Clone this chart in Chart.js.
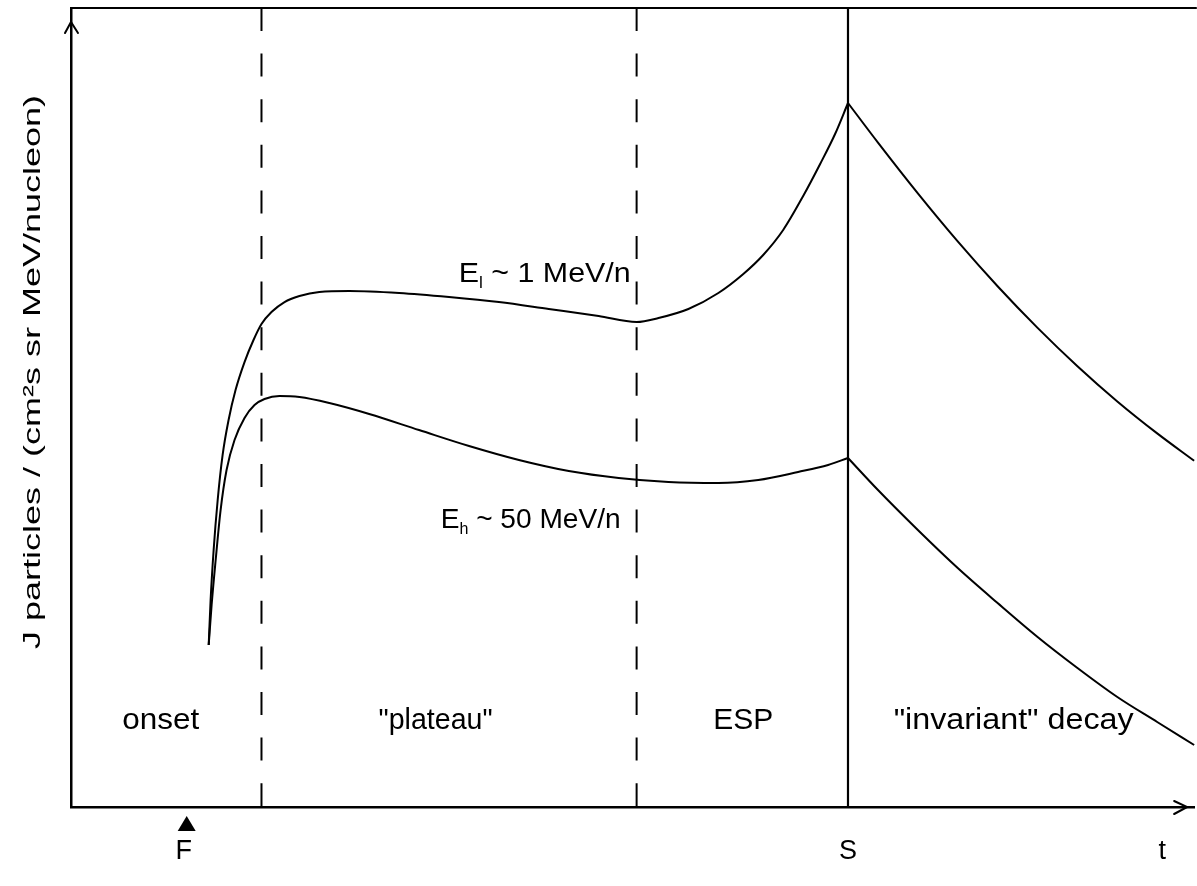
<!DOCTYPE html>
<html><head><meta charset="utf-8">
<script src="https://cdn.jsdelivr.net/npm/chart.js@4"></script>
<style>html,body{margin:0;padding:0;background:#fff;}#wrap{width:1197px;height:886px;}</style>
</head><body><div id="wrap"><canvas id="c" width="1197" height="886"></canvas></div>
<script>
// ---- data (time in arbitrary units 0..100, intensity J in arbitrary units 0..100) ----
const lowEnergyRiseT = [12.26,12.43,12.70,13.06,13.50,14.03,14.65,15.45,16.25,16.96,17.85,19.01,20.34,22.11,24.78,29.22,33.66,38.10,42.54,46.98,50.36,52.31,54.97,57.64,59.86,61.63,63.41,65.19,66.70,68.03,69.18];
const lowEnergyRiseJ = [20.28,25.91,32.17,38.42,44.06,48.44,52.19,55.69,58.45,60.45,61.95,63.20,63.95,64.46,64.58,64.33,63.83,63.20,62.33,61.45,60.70,61.20,62.33,64.33,66.71,69.09,72.22,76.47,80.48,84.23,88.11];
const lowEnergyDecayT = [69.18,71.85,75.40,78.95,82.50,86.06,89.61,93.16,96.71,100.0];
const lowEnergyDecayJ = [88.11,83.15,76.80,70.79,65.18,59.97,55.17,50.76,46.76,43.33];
const highEnergyRiseT = [12.26,12.52,12.88,13.32,13.85,14.56,15.45,16.34,17.23,18.56,20.34,23.00,26.55,30.99,35.44,39.88,44.32,48.76,53.20,57.64,61.19,64.74,67.41,69.18];
const highEnergyRiseJ = [20.28,25.28,30.91,37.17,42.18,45.93,48.69,50.31,51.06,51.44,51.31,50.56,49.19,47.18,45.18,43.43,42.05,41.18,40.68,40.55,40.93,41.93,42.80,43.68];
const highEnergyDecayT = [69.18,71.85,75.40,78.95,82.50,86.06,89.61,93.16,96.71,100.0];
const highEnergyDecayJ = [43.68,39.67,34.67,29.91,25.53,21.28,17.40,13.77,10.64,7.76];
const phaseBoundaryT = [16.96, 50.36];   // dashed boundaries
const shockT = 69.18;                     // shock passage S
const phaseLabels = ['onset', '"plateau"', 'ESP', '"invariant" decay'];
const phaseLabelT = [7.99, 32.46, 59.86, 83.93];
const phaseLabelJ = 9.76;
const phaseLabelWidth = [77, 114, 60, 240];
const axisMarkT = [10.04, 69.18, 97.16];
const axisMarkLabels = ['F', 'S', 't'];
const flareT = 10.30;
const energyLabels = [   // t = right end of the label
  {main:'E', sub:'l', rest:' ~ 1 MeV/n', t:49.83, j:65.70, width:172},
  {main:'E', sub:'h', rest:' ~ 50 MeV/n', t:48.94, j:34.92, width:180}
];
const yTitle = 'J particles / (cm\u00B2s sr MeV/nucleon)';

const zip = (ts, js) => ts.map((t, i) => ({x: t, y: js[i]}));
const FONT = '"Liberation Sans", Arial, Helvetica, sans-serif';

const curve = (label, pts) => ({label, data: pts, showLine: true, borderColor: '#000', borderWidth: 2,
  pointRadius: 0, fill: false, cubicInterpolationMode: 'monotone', clip: false});
const vline = (t, dashed) => ({label: 'v' + t, data: [{x: t, y: 100}, {x: t, y: 0}], showLine: true,
  borderColor: '#000', borderWidth: dashed ? 2 : 2.2, borderDash: dashed ? [23, 22.6] : [], borderDashOffset: 0,
  pointRadius: 0, tension: 0, fill: false});

const overlay = {
  id: 'overlay',
  afterDraw(chart) {
    const {ctx, chartArea: a, scales: {x, y}} = chart;
    ctx.save();
    ctx.strokeStyle = '#000'; ctx.fillStyle = '#000'; ctx.lineWidth = 2; ctx.lineCap = 'round';
    // top frame line
    ctx.beginPath(); ctx.moveTo(a.left, a.top); ctx.lineTo(a.right + 2, a.top); ctx.stroke();
    // y-axis arrow
    ctx.beginPath();
    ctx.moveTo(a.left - 6, a.top + 25); ctx.lineTo(a.left, a.top + 14); ctx.lineTo(a.left + 7, a.top + 25);
    ctx.stroke();
    // x-axis arrow
    ctx.beginPath();
    ctx.moveTo(a.right - 20, a.bottom - 6); ctx.lineTo(a.right - 7, a.bottom); ctx.lineTo(a.right - 20, a.bottom + 7);
    ctx.stroke();
    // flare marker (triangle under the axis at F)
    const fx = x.getPixelForValue(flareT);
    ctx.beginPath();
    ctx.moveTo(fx, a.bottom + 9); ctx.lineTo(fx + 9, a.bottom + 24); ctx.lineTo(fx - 9, a.bottom + 24);
    ctx.closePath(); ctx.fill();
    // phase labels (slightly stretched like the scanned original)
    ctx.font = '30px ' + FONT; ctx.textAlign = 'center'; ctx.textBaseline = 'alphabetic';
    phaseLabels.forEach((s, i) => {
      const nat = ctx.measureText(s).width;
      ctx.save();
      ctx.translate(x.getPixelForValue(phaseLabelT[i]), y.getPixelForValue(phaseLabelJ));
      ctx.scale(phaseLabelWidth[i] / nat, 1);
      ctx.fillText(s, 0, 0);
      ctx.restore();
    });
    // energy labels with subscripts (right-aligned at given t)
    ctx.textAlign = 'left';
    energyLabels.forEach(l => {
      ctx.font = '28px ' + FONT; const wm = ctx.measureText(l.main).width, wr = ctx.measureText(l.rest).width;
      ctx.font = '16px ' + FONT; const ws = ctx.measureText(l.sub).width;
      const nat = wm + ws + wr, k = l.width / nat;
      ctx.save();
      ctx.translate(x.getPixelForValue(l.t) - l.width, y.getPixelForValue(l.j));
      ctx.scale(k, 1);
      let px = 0;
      ctx.font = '28px ' + FONT; ctx.fillText(l.main, px, 0); px += wm;
      ctx.font = '16px ' + FONT; ctx.fillText(l.sub, px, 6); px += ws;
      ctx.font = '28px ' + FONT; ctx.fillText(l.rest, px, 0);
      ctx.restore();
    });
    // y title (stretched along its length like the original)
    ctx.save();
    ctx.translate(33, a.top + 364);
    ctx.rotate(-Math.PI / 2);
    ctx.font = '24px ' + FONT;
    const w = ctx.measureText(yTitle).width;
    ctx.scale(554 / w, 1);
    ctx.textAlign = 'center'; ctx.textBaseline = 'middle';
    ctx.fillText(yTitle, 0, 0);
    ctx.restore();
    ctx.restore();
  }
};

new Chart(document.getElementById('c'), {
  type: 'scatter',
  data: {
    datasets: [
      curve('E_l rise', zip(lowEnergyRiseT, lowEnergyRiseJ)),
      curve('E_l decay', zip(lowEnergyDecayT, lowEnergyDecayJ)),
      curve('E_h rise', zip(highEnergyRiseT, highEnergyRiseJ)),
      curve('E_h decay', zip(highEnergyDecayT, highEnergyDecayJ)),
      vline(phaseBoundaryT[0], true),
      vline(phaseBoundaryT[1], true),
      vline(shockT, false)
    ]
  },
  options: {
    responsive: false, animation: false, devicePixelRatio: 1, events: [],
    layout: {padding: {left: 71, top: 8, right: 0, bottom: -10}},
    plugins: {legend: {display: false}, tooltip: {enabled: false}},
    scales: {
      x: {
        type: 'linear', min: 0, max: 100,
        grid: {display: false, drawTicks: false},
        border: {display: true, color: '#000', width: 2.5},
        afterBuildTicks: axis => { axis.ticks = axisMarkT.map(v => ({value: v})); },
        ticks: {autoSkip: false, maxRotation: 0, color: '#000', padding: 31,
          font: {size: 27, family: FONT, lineHeight: 1.0},
          callback: (v, i) => axisMarkLabels[i]}
      },
      y: {
        type: 'linear', min: 0, max: 100,
        grid: {display: false, drawTicks: false},
        border: {display: true, color: '#000', width: 2.5},
        ticks: {display: false}
      }
    }
  },
  plugins: [overlay]
});
</script>
</body></html>
